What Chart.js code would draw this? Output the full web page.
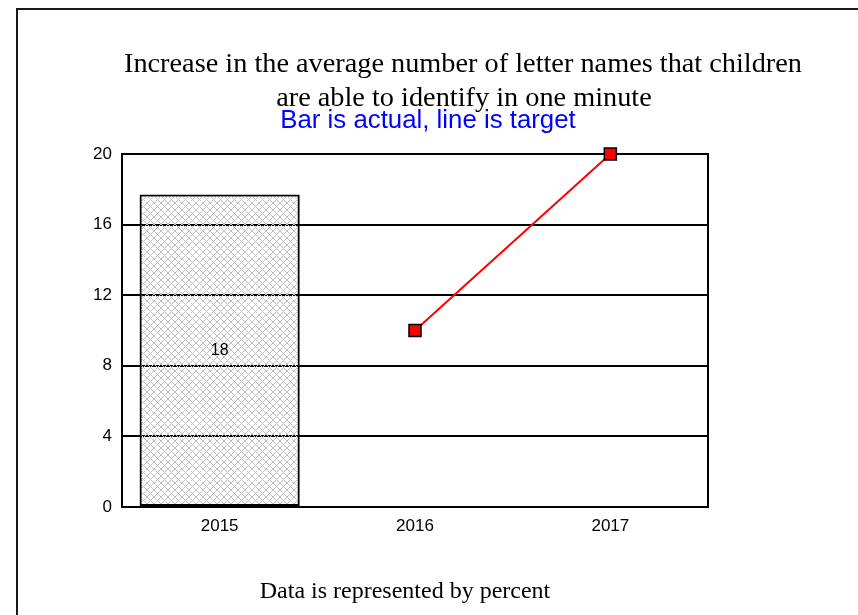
<!DOCTYPE html>
<html>
<head>
<meta charset="utf-8">
<script src="https://cdn.jsdelivr.net/npm/chart.js@4.4.1/dist/chart.umd.min.js"></script>
<style>
    html, body {
        margin: 0;
        padding: 0;
        width: 858px;
        height: 615px;
        overflow: hidden;
        background: #fff;
    }
    .frame {
        position: absolute;
        left: 16px;
        top: 8px;
        width: 900px;
        height: 700px;
        border-left: 2px solid #1a1a1a;
        border-top: 2px solid #1a1a1a;
    }
    .txt {
        position: absolute;
        width: 800px;
        text-align: center;
        white-space: nowrap;
    }
    .serif {
        font-family: "Liberation Serif", "Times New Roman", serif;
        color: #000;
    }
    #title1, #title2 {
        font-size: 28.3px;
        line-height: 28px;
    }
    #title1 { left: 63px; top: 49px; }
    #title2 { left: 64px; top: 83px; }
    #subtitle {
        left: 28px;
        top: 106px;
        font-family: "Liberation Sans", Arial, sans-serif;
        font-size: 25.8px;
        line-height: 26px;
        color: #0000ff;
    }
    #footer { left: 5px; top: 578px; font-size: 24px; line-height: 24px; }
    #wrap {
        position: absolute;
        left: 0;
        top: 0;
        width: 858px;
        height: 615px;
    }
</style>
</head>
<body>
<div class="frame"></div>
<div id="wrap"><canvas id="chart" width="858" height="615"></canvas></div>
<div class="txt serif" id="title1">Increase in the average number of letter names that children</div>
<div class="txt serif" id="title2">are able to identify in one minute</div>
<div class="txt" id="subtitle">Bar is actual, line is target</div>
<div class="txt serif" id="footer">Data is represented by percent</div>

<script>
    // values
    const years = ['2015', '2016', '2017'];
    const actual = [17.7, null, null];
    const target = [null, 10, 20];
    const yTicks = [0, 4, 8, 12, 16, 20];

    // cross hatch fill for the actual bar
    function makeHatch() {
        const c = document.createElement('canvas');
        c.width = 7;
        c.height = 7;
        const g = c.getContext('2d');
        g.strokeStyle = '#c2c2c2';
        g.lineWidth = 1;
        g.beginPath();
        g.moveTo(0, 0); g.lineTo(7, 7);
        g.moveTo(7, 0); g.lineTo(0, 7);
        g.stroke();
        return g.createPattern(c, 'repeat');
    }

    // box round the plot area (top and right side)
    const plotBox = {
        id: 'plotBox',
        beforeDatasetsDraw(chart) {
            const {ctx, chartArea} = chart;
            ctx.save();
            ctx.strokeStyle = '#000';
            ctx.lineWidth = 2;
            ctx.strokeRect(chartArea.left, chartArea.top, chartArea.right - chartArea.left, chartArea.bottom - chartArea.top);
            ctx.restore();
        }
    };

    // value label in the middle of the bar
    const barLabel = {
        id: 'barLabel',
        afterDatasetsDraw(chart) {
            const {ctx} = chart;
            const meta = chart.getDatasetMeta(0);
            ctx.save();
            ctx.font = '16px "Liberation Sans", Arial, sans-serif';
            ctx.fillStyle = '#000';
            ctx.textAlign = 'center';
            ctx.textBaseline = 'middle';
            meta.data.forEach((bar, i) => {
                if (actual[i] == null) return;
                ctx.fillText(String(Math.round(actual[i])), bar.x, (bar.y + bar.base) / 2);
            });
            ctx.restore();
        }
    };

    const ctx = document.getElementById('chart').getContext('2d');

    new Chart(ctx, {
        type: 'bar',
        data: {
            labels: years,
            datasets: [
                {
                    type: 'bar',
                    label: 'Actual',
                    data: actual,
                    backgroundColor: makeHatch(),
                    borderColor: '#000',
                    borderWidth: 2,
                    borderSkipped: false,
                    barPercentage: 0.82,
                    categoryPercentage: 1,
                    order: 2
                },
                {
                    type: 'line',
                    label: 'Target',
                    data: target,
                    borderColor: '#ff0000',
                    borderWidth: 2,
                    pointStyle: 'rect',
                    pointRadius: 8.5,
                    pointBackgroundColor: '#ff0000',
                    pointBorderColor: '#000',
                    pointBorderWidth: 1.5,
                    tension: 0,
                    clip: false,
                    order: 1
                }
            ]
        },
        options: {
            responsive: false,
            animation: false,
            layout: {
                padding: {left: 0, top: 154, right: 150, bottom: 68}
            },
            plugins: {
                legend: {display: false},
                title: {display: false},
                tooltip: {enabled: false}
            },
            scales: {
                x: {
                    grid: {display: false, drawTicks: false},
                    border: {display: true, color: '#000', width: 2},
                    ticks: {
                        padding: 9,
                        color: '#000',
                        font: {family: '"Liberation Sans", Arial, sans-serif', size: 17}
                    },
                    afterFit(scale) { scale.height = 40; }
                },
                y: {
                    min: 0,
                    max: 20,
                    afterBuildTicks(scale) { scale.ticks = yTicks.map(v => ({value: v})); },
                    grid: {color: '#000', lineWidth: 2, drawTicks: false},
                    border: {display: true, color: '#000', width: 2},
                    ticks: {
                        padding: 10,
                        color: '#000',
                        font: {family: '"Liberation Sans", Arial, sans-serif', size: 17}
                    },
                    afterFit(scale) { scale.width = 122; }
                }
            }
        },
        plugins: [plotBox, barLabel]
    });
</script>
</body>
</html>
